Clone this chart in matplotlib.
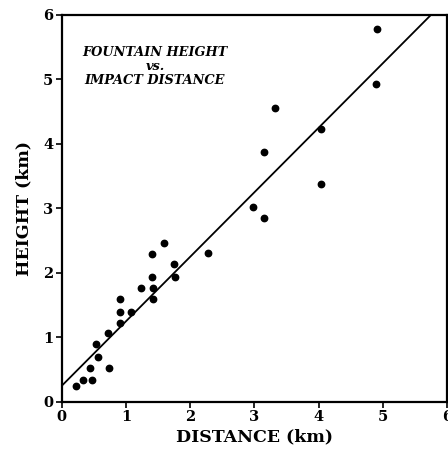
import matplotlib.pyplot as plt

# Fountain height vs impact distance
distance = [0.22, 0.33, 0.44, 0.47, 0.54, 0.56, 0.73, 0.72, 0.90, 0.90,
            0.91, 1.07, 1.24, 1.41, 1.41, 1.42, 1.42, 1.59, 1.75, 1.76,
            2.28, 2.97, 3.15, 3.15, 3.32, 4.03, 4.03, 4.90, 4.91]
height = [0.25, 0.34, 0.52, 0.34, 0.89, 0.70, 0.53, 1.06, 1.59, 1.40,
          1.22, 1.40, 1.77, 2.29, 1.93, 1.76, 1.59, 2.47, 2.13, 1.94,
          2.30, 3.02, 3.88, 2.85, 4.56, 4.23, 3.38, 4.93, 5.78]

# fitted line endpoints
fit_x = [0.0, 5.75]
fit_y = [0.25, 6.0]

ticks = [0, 1, 2, 3, 4, 5, 6]

fig = plt.figure(figsize=(4.48, 4.49), dpi=100)
ax = fig.add_axes([0.138, 0.105, 0.86, 0.862])

ax.plot(distance, height, 'o', color='black', markersize=4.6)
ax.plot(fit_x, fit_y, color='black', linewidth=1.3)

ax.set_xlim(0, 6)
ax.set_ylim(0, 6)
ax.set_xticks(ticks)
ax.set_yticks(ticks)

font = 'DejaVu Serif'
ax.set_xticklabels([str(t) for t in ticks], fontfamily=font, fontweight='bold', fontsize=10.5)
ax.set_yticklabels([str(t) for t in ticks], fontfamily=font, fontweight='bold', fontsize=10.5)
ax.tick_params(direction='out', length=4, width=1.2, pad=2)

for s in ax.spines.values():
    s.set_linewidth(1.6)

ax.set_xlabel('DISTANCE (km)', fontfamily=font, fontweight='bold', fontsize=12.5, labelpad=3)
ax.set_ylabel('HEIGHT (km)', fontfamily=font, fontweight='bold', fontsize=12.5, labelpad=8)

ax.text(1.45, 5.2, 'FOUNTAIN HEIGHT\nvs.\nIMPACT DISTANCE', ha='center', va='center',
        fontfamily=font, fontweight='bold', fontstyle='italic', fontsize=9.3,
        linespacing=1.1)

plt.savefig('out.png', dpi=100)
